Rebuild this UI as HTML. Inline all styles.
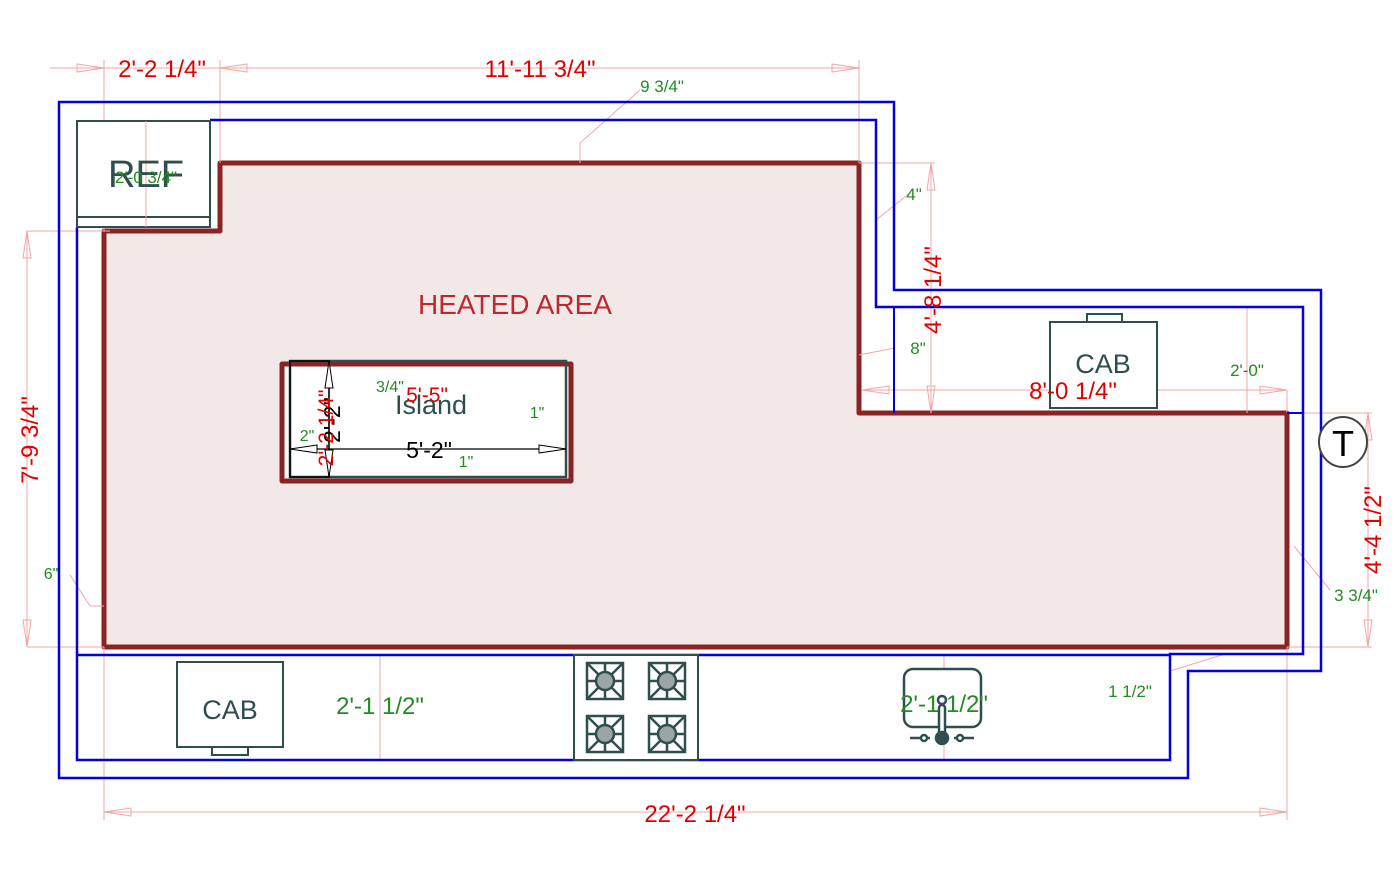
<!DOCTYPE html>
<html><head><meta charset="utf-8"><style>
html,body{margin:0;padding:0;background:#fff;}
svg{display:block;}
text{font-family:"Liberation Sans",sans-serif;}
</style></head><body>
<svg width="1400" height="881" viewBox="0 0 1400 881" xmlns="http://www.w3.org/2000/svg">
<polygon points="220,163 859,163 859,413 1287,413 1287,647 104,647 104,231 220,231" fill="#f2e8e8" stroke="#8b2323" stroke-width="5" stroke-linejoin="round"/>
<g stroke="#f4a6a6" stroke-width="1" fill="none">
<line x1="50" y1="68" x2="860" y2="68"/>
<line x1="104" y1="60" x2="104" y2="231"/>
<line x1="220" y1="60" x2="220" y2="163"/>
<line x1="859" y1="60" x2="859" y2="163"/>
<polygon points="77,64 104,68 77,72"/><polygon points="247,64 220,68 247,72"/><polygon points="832,64 859,68 832,72"/>
<line x1="27" y1="231" x2="110" y2="231"/><line x1="27" y1="647" x2="104" y2="647"/>
<line x1="27" y1="231" x2="27" y2="647"/>
<polygon points="23,258 27,231 31,258"/><polygon points="23,620 27,647 31,620"/>
<line x1="859" y1="163" x2="935" y2="163"/>
<line x1="931" y1="163" x2="931" y2="413"/>
<polygon points="927,190 931,163 935,190"/><polygon points="927,386 931,413 935,386"/>
<line x1="862" y1="390" x2="1287" y2="390"/><line x1="1287" y1="390" x2="1287" y2="413"/>
<polygon points="889,386 862,390 889,394"/><polygon points="1260,386 1287,390 1260,394"/>
<line x1="1287" y1="413" x2="1372" y2="413"/><line x1="1287" y1="647" x2="1372" y2="647"/>
<line x1="1368" y1="413" x2="1368" y2="647"/>
<polygon points="1364,440 1368,413 1372,440"/><polygon points="1364,620 1368,647 1372,620"/>
<line x1="104" y1="647" x2="104" y2="820"/><line x1="1287" y1="647" x2="1287" y2="820"/>
<line x1="104" y1="812" x2="1287" y2="812"/>
<polygon points="131,808 104,812 131,816"/><polygon points="1260,808 1287,812 1260,816"/>
<line x1="580" y1="163" x2="580" y2="143"/><line x1="580" y1="143" x2="640" y2="90"/>
<line x1="146" y1="121" x2="146" y2="227"/>
<line x1="876" y1="220" x2="910" y2="193"/>
<line x1="859" y1="355" x2="895" y2="348"/>
<line x1="1247" y1="307" x2="1247" y2="413"/>
<line x1="380" y1="654" x2="380" y2="760"/>
<line x1="944" y1="654" x2="944" y2="760"/>
<line x1="1170" y1="671" x2="1225" y2="654"/>
<line x1="1294" y1="546" x2="1330" y2="590"/>
<line x1="90" y1="606" x2="104" y2="606"/><line x1="90" y1="606" x2="70" y2="575"/>
<line x1="282" y1="396" x2="571" y2="396"/>
<polygon points="310,392 283,396 310,400"/><polygon points="543,392 570,396 543,400"/>
<line x1="390" y1="380" x2="420" y2="368"/>
<line x1="545" y1="418" x2="566" y2="425"/>
<line x1="445" y1="476" x2="460" y2="465"/>
</g>
<polygon points="59,102 894,102 894,290 1321,290 1321,671 1188,671 1188,778 59,778" fill="none" stroke="#0000e0" stroke-width="2.5"/>
<polyline points="210,120 876,120 876,307 1303,307 1303,654 1170,654 1170,760 77,760 77,227" fill="none" stroke="#0000e0" stroke-width="2.5"/>
<line x1="77" y1="655" x2="1170" y2="655" stroke="#0000e0" stroke-width="2.5"/>
<line x1="894" y1="307" x2="894" y2="413" stroke="#0000e0" stroke-width="2"/>
<line x1="1287" y1="413" x2="1303" y2="413" stroke="#0000e0" stroke-width="2"/>
<rect x="77" y="121" width="133" height="106" fill="#fff" stroke="#2f4f4f" stroke-width="2"/>
<line x1="77" y1="217" x2="210" y2="217" stroke="#2f4f4f" stroke-width="2"/>
<line x1="146" y1="121" x2="146" y2="227" stroke="#f4a6a6"/>
<text x="146" y="187" font-size="38" fill="#2f4f4f" text-anchor="middle">REF</text>
<text x="146" y="183" font-size="17" fill="#228b22" text-anchor="middle">2'-0 3/4"</text>
<rect x="282" y="364" width="289" height="117" fill="#fff" stroke="#8b2323" stroke-width="5" stroke-linejoin="round"/>
<rect x="290" y="361" width="276" height="116" fill="none" stroke="#2f4f4f" stroke-width="2.5"/>
<rect x="290" y="361" width="39" height="116" fill="none" stroke="#000" stroke-width="1.5"/>
<line x1="290" y1="449" x2="566" y2="449" stroke="#000" stroke-width="1.2"/>
<polygon points="317,445 290,449 317,453" fill="#fff" stroke="#000"/>
<polygon points="539,445 566,449 539,453" fill="#fff" stroke="#000"/>
<line x1="329" y1="361" x2="329" y2="477" stroke="#000" stroke-width="1.2"/>
<polygon points="325,388 329,361 333,388" fill="#fff" stroke="#000"/>
<polygon points="325,450 329,477 333,450" fill="#fff" stroke="#000"/>
<text x="431" y="414" font-size="27" fill="#2f4f4f" text-anchor="middle">Island</text>
<text x="427" y="402" font-size="21" fill="#e00000" text-anchor="middle">5'-5"</text>
<text x="390" y="392" font-size="16" fill="#228b22" text-anchor="middle">3/4"</text>
<text x="537" y="418" font-size="16" fill="#228b22" text-anchor="middle">1"</text>
<text x="307" y="441" font-size="16" fill="#228b22" text-anchor="middle">2"</text>
<text x="466" y="467" font-size="16" fill="#228b22" text-anchor="middle">1"</text>
<text x="429" y="458" font-size="23" fill="#000" text-anchor="middle">5'-2"</text>
<text transform="translate(340,420) rotate(-90)" font-size="23" fill="#000" text-anchor="middle">2'-2"</text>
<text transform="translate(333,428) rotate(-90)" font-size="21" fill="#e00000" text-anchor="middle">2'-2 1/4"</text>
<text x="515" y="314" font-size="28" fill="#c0282d" text-anchor="middle">HEATED AREA</text>
<text x="162" y="77" font-size="24" fill="#e00000" text-anchor="middle">2'-2 1/4"</text>
<text x="540" y="77" font-size="24" fill="#e00000" text-anchor="middle">11'-11 3/4"</text>
<text x="662" y="92" font-size="17" fill="#228b22" text-anchor="middle">9 3/4"</text>
<text transform="translate(38,440) rotate(-90)" font-size="24" fill="#e00000" text-anchor="middle">7'-9 3/4"</text>
<text x="51" y="579" font-size="16" fill="#228b22" text-anchor="middle">6"</text>
<text x="914" y="200" font-size="17" fill="#228b22" text-anchor="middle">4"</text>
<text x="918" y="354" font-size="17" fill="#228b22" text-anchor="middle">8"</text>
<text transform="translate(941,290) rotate(-90)" font-size="24" fill="#e00000" text-anchor="middle">4'-8 1/4"</text>
<rect x="1087" y="314" width="35" height="8" fill="#fff" stroke="#2f4f4f" stroke-width="2"/>
<rect x="1050" y="322" width="107" height="86" fill="#fff" stroke="#2f4f4f" stroke-width="2"/>
<text x="1103" y="373" font-size="27" fill="#2f4f4f" text-anchor="middle">CAB</text>
<text x="1073" y="399" font-size="24" fill="#e00000" text-anchor="middle">8'-0 1/4"</text>
<text x="1247" y="376" font-size="17" fill="#228b22" text-anchor="middle">2'-0"</text>
<text transform="translate(1381,530) rotate(-90)" font-size="24" fill="#e00000" text-anchor="middle">4'-4 1/2"</text>
<text x="1356" y="601" font-size="17" fill="#228b22" text-anchor="middle">3 3/4"</text>
<text x="1130" y="697" font-size="17" fill="#228b22" text-anchor="middle">1 1/2"</text>
<text x="380" y="714" font-size="24" fill="#228b22" text-anchor="middle">2'-1 1/2"</text>
<text x="695" y="822" font-size="24" fill="#e00000" text-anchor="middle">22'-2 1/4"</text>
<rect x="177" y="662" width="106" height="85" fill="#fff" stroke="#2f4f4f" stroke-width="2"/>
<rect x="212" y="747" width="36" height="8" fill="#fff" stroke="#2f4f4f" stroke-width="2"/>
<text x="230" y="719" font-size="27" fill="#2f4f4f" text-anchor="middle">CAB</text>
<rect x="574" y="655" width="124" height="105" fill="#fff" stroke="#2f4f4f" stroke-width="2"/>
<g stroke="#2f4f4f" stroke-width="2.5" fill="none">
<g id="b"><rect x="587" y="663" width="36" height="36"/><line x1="587" y1="663" x2="623" y2="699"/><line x1="623" y1="663" x2="587" y2="699"/><line x1="605" y1="663" x2="605" y2="699"/><line x1="587" y1="681" x2="623" y2="681"/><circle cx="605" cy="681" r="9" fill="#9aa5a5"/></g>
<use href="#b" x="62" y="0"/><use href="#b" x="0" y="53"/><use href="#b" x="62" y="53"/>
</g>
<rect x="904" y="669" width="77" height="58" rx="9" fill="#fff" stroke="#2f4f4f" stroke-width="2.5"/>
<text x="944" y="712" font-size="24" fill="#228b22" text-anchor="middle">2'-1 1/2"</text>
<g stroke="#2f4f4f" stroke-width="2.5" fill="#fff">
<rect x="939" y="705" width="6" height="30" rx="3"/>
<circle cx="942" cy="700" r="4"/>
</g>
<g fill="#2f4f4f" stroke="#2f4f4f" stroke-width="2.5">
<circle cx="942" cy="738" r="6"/>
<line x1="910" y1="738" x2="930" y2="738"/><line x1="954" y1="738" x2="974" y2="738"/>
<circle cx="924" cy="738" r="3" fill="#fff"/><circle cx="960" cy="738" r="3" fill="#fff"/>
</g>
<ellipse cx="1343" cy="442" rx="24" ry="25" fill="#fff" stroke="#444" stroke-width="2"/>
<text x="1343" y="456" font-size="36" fill="#000" text-anchor="middle">T</text>
</svg>
</body></html>
